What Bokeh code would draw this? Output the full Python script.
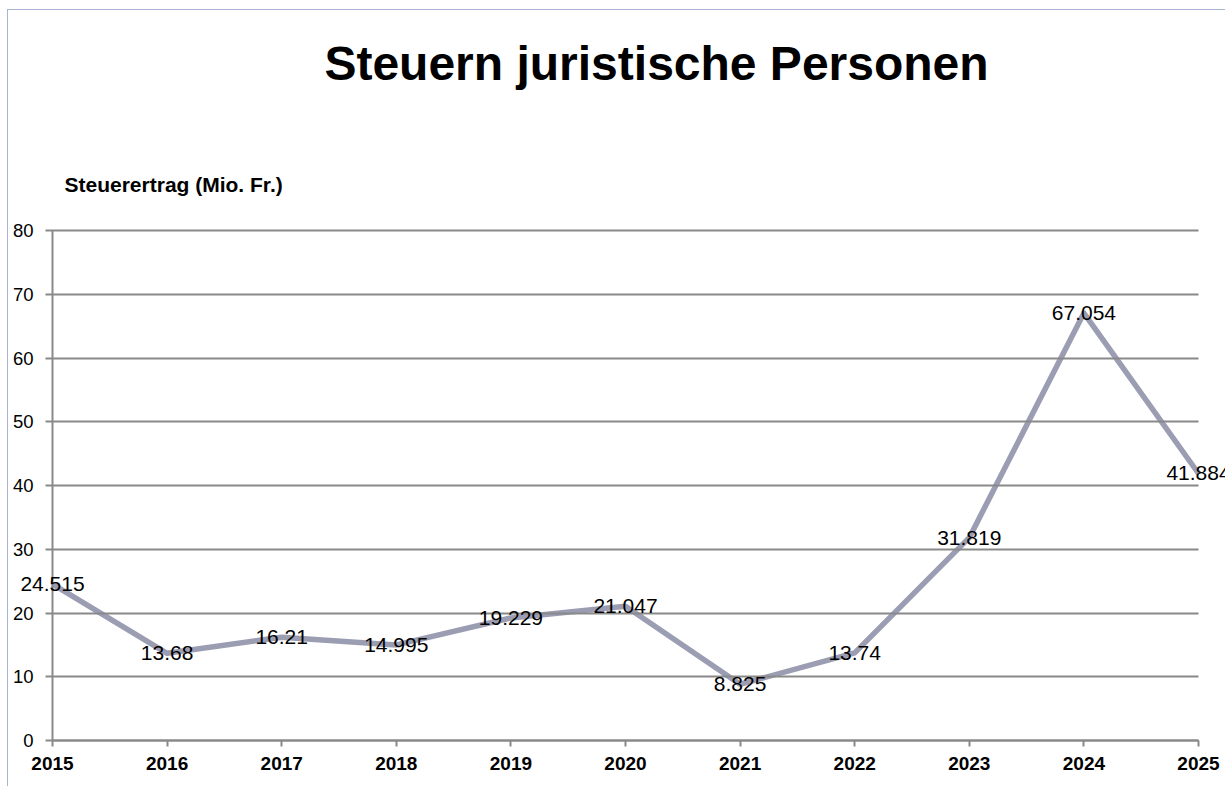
from bokeh.plotting import figure
from bokeh.models import ColumnDataSource, LabelSet, Label, FixedTicker, Range1d
from bokeh.core.properties import value
from bokeh.embed import file_html
from bokeh.resources import INLINE

years = [2015, 2016, 2017, 2018, 2019, 2020, 2021, 2022, 2023, 2024, 2025]
values = [24.515, 13.68, 16.21, 14.995, 19.229, 21.047, 8.825, 13.74, 31.819, 67.054, 41.884]
labels = [f"{v:g}" for v in values]
y_ticks = [0, 10, 20, 30, 40, 50, 60, 70, 80]

title_text = "Steuern juristische Personen"
axis_title = "Steuerertrag (Mio. Fr.)"

FONT = "Liberation Sans"
GRID = "#898989"
LINE = "#9B9DB3"

W, H = 1218, 777
# pixel layout of the plotting area inside the canvas
X0_PX, X1_PX = 44, 1190     # 2015 .. 2025
Y0_PX, Y1_PX = 730, 220     # 0 .. 80 (from top)
xs = (X1_PX - X0_PX) / (years[-1] - years[0])
ys = (Y0_PX - Y1_PX) / (y_ticks[-1] - y_ticks[0])
x_range = Range1d(years[0] - X0_PX / xs, years[-1] + (W - X1_PX) / xs)
y_range = Range1d(y_ticks[0] - (H - Y0_PX) / ys, y_ticks[-1] + Y1_PX / ys)

src = ColumnDataSource(dict(x=years, y=values, t=labels))

p = figure(width=W, height=H, output_backend="svg", toolbar_location=None,
           x_range=x_range, y_range=y_range,
           min_border_left=0, min_border_right=0, min_border_top=0, min_border_bottom=0)
p.outline_line_color = None
p.background_fill_color = "white"
p.border_fill_color = "white"
p.styles = {"margin-left": "7px", "margin-top": "9px",
            "border-left": "1px solid #A9B3D6", "border-top": "1px solid #A9B3D6"}

p.xgrid.visible = False
p.ygrid.visible = False

# axes drawn at fixed data locations; y ticks extended inward act as gridlines
xa = p.xaxis[0]
ya = p.yaxis[0]
xa.fixed_location = 0
ya.fixed_location = years[0]
xa.bounds = (years[0], years[-1])
ya.bounds = (y_ticks[0], y_ticks[-1])
xa.ticker = FixedTicker(ticks=years)
ya.ticker = FixedTicker(ticks=y_ticks)
for ax in (xa, ya):
    ax.axis_line_color = GRID
    ax.axis_line_width = 2
    ax.major_tick_line_color = GRID
    ax.minor_tick_line_color = None
    ax.major_label_text_font = FONT
    ax.major_label_text_color = "black"
xa.major_tick_line_width = 2
xa.major_tick_out = 6
xa.major_tick_in = 0
ya.major_tick_line_width = 1.8
ya.major_tick_out = 7
ya.major_tick_in = X1_PX - X0_PX
xa.major_label_text_font_size = "19px"
xa.major_label_text_font_style = "bold"
xa.major_label_standoff = 10
ya.major_label_text_font_size = "18.5px"
ya.major_label_standoff = 12

p.line("x", "y", source=src, line_width=5.5, line_color=LINE, line_join="round")

p.add_layout(LabelSet(x="x", y="y", text="t", source=src, text_align="center",
                      text_baseline="middle", text_font=value(FONT), text_font_size="21px",
                      text_color="black"))

p.add_layout(Label(x=648, y=H - 53, x_units="screen", y_units="screen", text=title_text,
                   text_align="center", text_baseline="middle", text_font=FONT,
                   text_font_size="48px", text_font_style="bold", text_color="black"))
p.add_layout(Label(x=56, y=H - 174, x_units="screen", y_units="screen", text=axis_title,
                   text_align="left", text_baseline="middle", text_font=FONT,
                   text_font_size="21px", text_font_style="bold", text_color="black"))

open("out.html", "w").write(file_html(p, INLINE))
